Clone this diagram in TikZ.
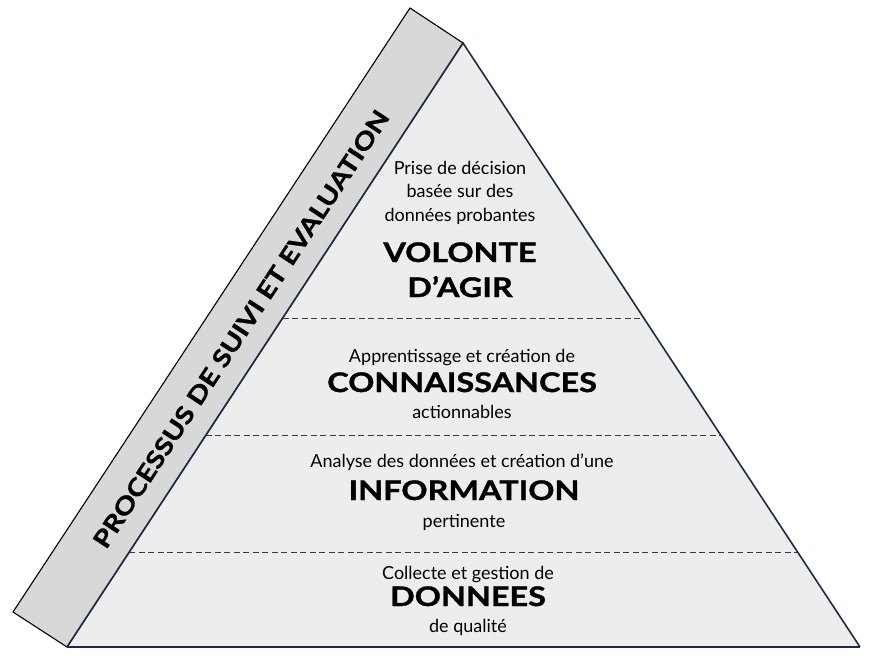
\documentclass[tikz,border=0pt]{standalone}
\usepackage{fontspec}
\setmainfont{Lato}
\newfontfamily\bigf{Lato}[FakeStretch=1.2,BoldFeatures={FakeBold=1.2}]
\usetikzlibrary{calc}
\definecolor{pyrfill}{HTML}{EDEDED}
\definecolor{bandfill}{HTML}{D8D8D8}
\definecolor{navy}{HTML}{1F2A44}
\definecolor{dashgray}{HTML}{3A3A3A}
\begin{document}
\begin{tikzpicture}[x=1pt,y=-1pt,
  small/.style={anchor=base,font=\fontsize{18}{21}\selectfont,inner sep=0pt},
  big/.style={anchor=base,font=\bigf\bfseries\fontsize{27}{30}\selectfont,inner sep=0pt},
  layerline/.style={draw=dashgray,line width=0.9pt,dash pattern=on 6pt off 3.5pt},
  pyredge/.style={draw=navy,line width=1.6pt,line join=miter},
  bandstyle/.style={fill=bandfill,draw=black,line width=1.1pt,line join=miter}]
\useasboundingbox (0,0) rectangle (869,657);
\coordinate (bo) at (410,8);
\coordinate (apex) at (463,43);
\coordinate (bl) at (67,647);
\coordinate (br) at (860,647);
\coordinate (bob) at (13,612);
% pyramid
\fill[pyrfill] (apex)--(br)--(bl)--cycle;
% band
\draw[bandstyle] (bo)--(apex)--(bl)--(bob)--cycle;
% layer separators
\coordinate (l1a) at ($(apex)!0.4553!(bl)$);
\coordinate (l1b) at ($(apex)!0.4553!(br)$);
\coordinate (l2a) at ($(apex)!0.6490!(bl)$);
\coordinate (l2b) at ($(apex)!0.6490!(br)$);
\coordinate (l3a) at ($(apex)!0.8427!(bl)$);
\coordinate (l3b) at ($(apex)!0.8427!(br)$);
\draw[layerline] (l1a)--(l1b);
\draw[layerline] (l2a)--(l2b);
\draw[layerline] (l3a)--(l3b);
% pyramid outline
\draw[pyredge] (bl)--(apex)--(br);
\draw[draw=navy,line width=2.6pt] (bl)--(br);
% band text
\node[font=\bigf\bfseries\fontsize{24}{26}\selectfont,rotate=56.7,inner sep=0pt] (band) at (241,329) {PROCESSUS DE SUIVI ET EVALUATION};
% layer 1
\node[small] (t1a) at (460,174) {Prise de décision};
\node[small] (t1b) at (460,197.5) {basée sur des};
\node[small] (t1c) at (460,221) {données probantes};
\node[big] (t1d) at (460,262) {VOLONTE};
\node[big] (t1e) at (460,297) {D’AGIR};
% layer 2
\node[small] (t2a) at (462,362) {Apprentissage et création de};
\node[big] (t2b) at (462,392) {CONNAISSANCES};
\node[small] (t2c) at (462,418) {actionnables};
% layer 3
\node[small] (t3a) at (462,467) {Analyse des données et création d’une};
\node[big] (t3b) at (464,500) {INFORMATION};
\node[small] (t3c) at (464,527) {pertinente};
% layer 4
\node[small] (t4a) at (468,579) {Collecte et gestion de};
\node[big] (t4b) at (468,606) {DONNEES};
\node[small] (t4c) at (468,632) {de qualité};
\end{tikzpicture}
\end{document}
